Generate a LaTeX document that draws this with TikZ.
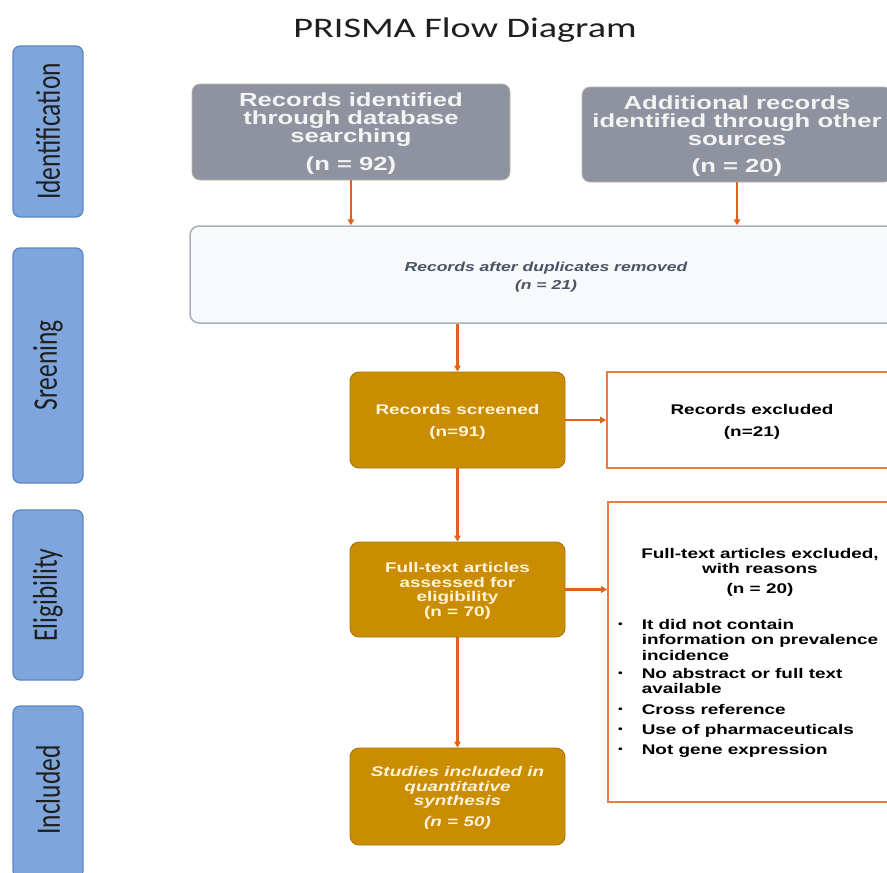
\documentclass[tikz,border=0pt]{standalone}
\usepackage{fontspec}
\usepackage{graphicx}
\usetikzlibrary{arrows.meta}
\newfontfamily\bx[FakeStretch=1.35]{Liberation Sans}
\newfontfamily\cbs[FakeStretch=1.35]{Carlito}
\newfontfamily\cbn{Carlito}
\definecolor{phasefill}{HTML}{7EA6DC}
\definecolor{phaseedge}{HTML}{5A86C5}
\definecolor{greyfill}{HTML}{8E939F}
\definecolor{greyedge}{HTML}{B9B7A8}
\definecolor{goldfill}{HTML}{CA8C00}
\definecolor{goldedge}{HTML}{A97608}
\definecolor{orng}{HTML}{E0621C}
\definecolor{orngedge}{HTML}{EE7B3E}
\definecolor{dupfill}{HTML}{F8F9FB}
\definecolor{dupedge}{HTML}{A9AFBC}
\definecolor{duptext}{HTML}{4A5466}
\definecolor{lighttext}{HTML}{F4F4F4}
\definecolor{creamtext}{HTML}{FFF4DC}
\newcommand{\smallbul}{\raisebox{0.12em}{\scalebox{0.7}{\textbullet}}}
\tikzset{
  phase/.style={draw=phaseedge, fill=phasefill, line width=1.2pt, rounded corners=7pt,
    minimum width=70pt, inner sep=0pt},
  phasetext/.style={font=\cbn\fontsize{25.5}{26}\selectfont, text=black!88},
  greybox/.style={draw=greyedge, fill=greyfill, line width=0.8pt, rounded corners=8pt,
    inner sep=0pt},
  greytext/.style={inner sep=0pt, align=center, text=lighttext,
    font=\bx\bfseries\fontsize{19}{18}\selectfont},
  dupbox/.style={draw=dupedge, fill=dupfill, line width=1.5pt, rounded corners=9pt,
    inner sep=0pt},
  duptxt/.style={inner sep=0pt, align=center, text=duptext,
    font=\bx\bfseries\itshape\fontsize{13}{18}\selectfont},
  goldbox/.style={draw=goldedge, fill=goldfill, line width=0.9pt, rounded corners=9pt,
    minimum width=215pt, inner sep=0pt},
  goldtext/.style={inner sep=0pt, align=center, text=creamtext,
    font=\bx\bfseries\fontsize{14}{14.5}\selectfont},
  orbox/.style={draw=orngedge, fill=white, line width=1.6pt, inner sep=0pt},
  ortext/.style={align=center, inner sep=0pt, text=black,
    font=\bx\bfseries\fontsize{14}{14.5}\selectfont},
  arr/.style={draw=orng, line width=2.2pt, -{Triangle[length=6pt,width=6.5pt]}},
}
\begin{document}
\begin{tikzpicture}[x=1pt,y=-1pt]
\useasboundingbox (0,0) rectangle (887,873);
\clip (0,0) rectangle (887,873);
\fill[white] (0,0) rectangle (887,873);

% title
\node (title) at (465,30) {\cbs\fontsize{28.3}{30}\selectfont\color{black!88}PRISMA Flow Diagram};

% phase labels
\node[phase, minimum height=171pt] (pid) at (48,131.5) {};
\node[phasetext, rotate=90] (pidt) at (pid.center) {\scalebox{1}[1.35]{Identification}};
\node[phase, minimum height=235pt] (pscr) at (48,365.5) {};
\node[phasetext, rotate=90] (pscrt) at (pscr.center) {\scalebox{1}[1.35]{Sreening}};
\node[phase, minimum height=170pt] (pel) at (48,595) {};
\node[phasetext, rotate=90] (pelt) at (pel.center) {\scalebox{1}[1.35]{Eligibility}};
\node[phase, minimum height=172pt] (pinc) at (48,792) {};
\node[phasetext, rotate=90] (pinct) at (48,790) {\scalebox{1}[1.35]{Included}};

% identification boxes
\node[greybox, minimum width=318pt, minimum height=96pt] (db) at (351,132) {};
\node[greytext] (dbt) at (351,134)
  {Records identified\\through database\\searching\\[10pt](n = 92)};
\node[greybox, minimum width=310pt, minimum height=95pt] (oth) at (737,134.5) {};
\node[greytext] (otht) at (737,136.5)
  {Additional records\\identified through other\\sources\\[9pt](n = 20)};

% duplicates removed
\node[dupbox, minimum width=712pt, minimum height=97pt] (dup) at (546,274.5) {};
\node[duptxt] (dupt) at (546,277.5) {Records after duplicates removed\\(n = 21)};

% screening
\node[goldbox, minimum height=96pt] (scr) at (457.5,420) {};
\node[goldtext] (scrt) at (457.5,422) {Records screened\\[7pt](n=91)};
\node[orbox, minimum width=290pt, minimum height=96pt] (exc) at (752,420) {};
\node[ortext] (exct) at (752,422) {Records excluded\\[7pt](n=21)};

% eligibility
\node[goldbox, minimum height=95pt] (fta) at (457.5,589.5) {};
\node[goldtext] (ftat) at (457.5,591)
  {Full-text articles\\assessed for\\eligibility\\(n = 70)};
\node[orbox, minimum width=300pt, minimum height=300pt] (ftx) at (758,652) {};
\node[ortext] (ftxh) at (760,572.5) {Full-text articles excluded,\\with reasons\\[6pt](n = 20)};
\node[ortext, align=left, anchor=north west,
      font=\bx\bfseries\fontsize{14}{15.5}\selectfont] (ftxl) at (618,618)
  {\begin{tabular}{@{}l@{\hspace{19pt}}l@{}}
   \smallbul & It did not contain\\
             & information on prevalence\\
             & incidence\\[2.5pt]
   \smallbul & No abstract or full text\\
             & available\\[5.5pt]
   \smallbul & Cross reference\\[4pt]
   \smallbul & Use of pharmaceuticals\\[5pt]
   \smallbul & Not gene expression
   \end{tabular}};

% included
\node[goldbox, minimum height=97pt] (inc) at (457.5,796.5) {};
\node[goldtext, font=\bx\bfseries\itshape\fontsize{14}{14.5}\selectfont] (inct) at (457.5,798)
  {Studies included in\\quantitative\\synthesis\\[6pt](n = 50)};

% connectors
\draw[arr] (db.south) -- (db.south |- dup.north);
\draw[arr] (oth.south) -- (oth.south |- dup.north);
\draw[arr] (dup.south -| scr.north) -- (scr.north);
\draw[arr] (scr.east) -- (exc.west);
\draw[arr] (scr.south) -- (fta.north);
\draw[arr] (fta.east) -- (fta.east -| ftx.west);
\draw[arr] (fta.south) -- (inc.north);
\end{tikzpicture}
\end{document}
